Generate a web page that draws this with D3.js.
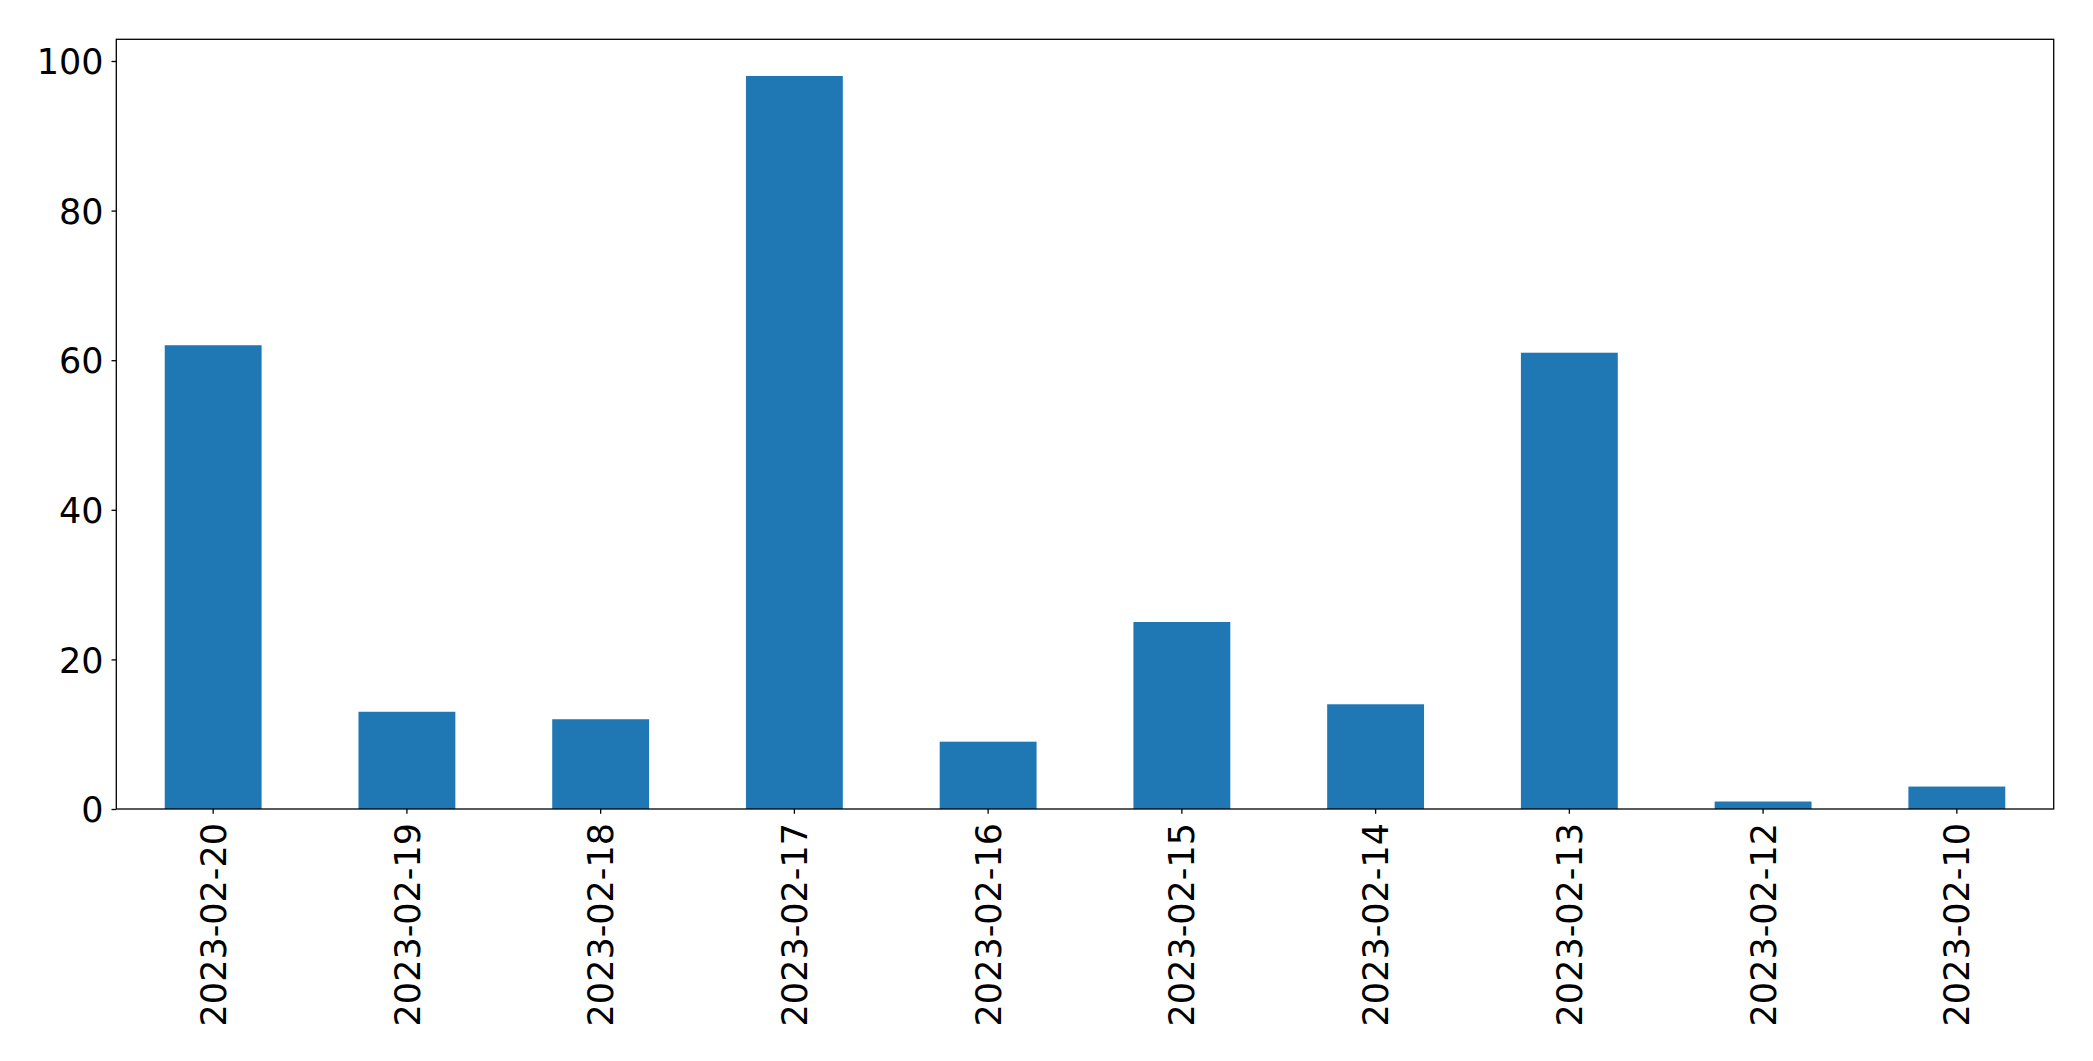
<!DOCTYPE html>
<html>
<head>
<meta charset="utf-8">
<script src="https://cdn.jsdelivr.net/npm/d3@7"></script>
<style>
  html, body { margin: 0; padding: 0; background: #fff; }
  svg { display: block; }
  text { font-family: "DejaVu Sans", sans-serif; fill: #000; }
</style>
</head>
<body>
<script>
const categories = ["2023-02-20","2023-02-19","2023-02-18","2023-02-17","2023-02-16","2023-02-15","2023-02-14","2023-02-13","2023-02-12","2023-02-10"];
const values = [62, 13, 12, 98, 9, 25, 14, 61, 1, 3];
const yTicks = [0, 20, 40, 60, 80, 100];

(function () {
const W = 2093, H = 1061;
const mLeft = 116.3, mRight = 2053.7, mTop = 39.3, mBottom = 809;
const fontSize = 35;

const svg = d3.select("body").append("svg").attr("width", W).attr("height", H);

const x = d3.scaleBand().domain(categories).range([mLeft, mRight]).paddingInner(0.5).paddingOuter(0.25);
const y = d3.scaleLinear().domain([0, d3.max(values) * 1.05]).range([mBottom, mTop]);

svg.append("g").selectAll("rect").data(categories).join("rect")
  .attr("x", (d) => x(d))
  .attr("width", x.bandwidth())
  .attr("y", (d, i) => y(values[i]))
  .attr("height", (d, i) => y(0) - y(values[i]))
  .attr("fill", "#1f77b4");

// frame
svg.append("rect").attr("x", mLeft).attr("y", mTop).attr("width", mRight - mLeft).attr("height", mBottom - mTop)
  .attr("fill", "none").attr("stroke", "#000").attr("stroke-width", 1.3);

// y axis
const yAxis = svg.append("g").attr("transform", `translate(${mLeft},0)`)
  .call(d3.axisLeft(y).tickValues(yTicks).tickSize(4.8).tickPadding(8).tickFormat(d3.format("d")));
yAxis.select(".domain").remove();
yAxis.selectAll("line").attr("stroke", "#000").attr("stroke-width", 1.3);
yAxis.selectAll("text").attr("font-size", fontSize).attr("font-family", "DejaVu Sans").attr("dy", "0.36em");

// x axis
const xAxis = svg.append("g").attr("transform", `translate(0,${mBottom})`)
  .call(d3.axisBottom(x).tickSize(4.8).tickSizeOuter(0));
xAxis.select(".domain").remove();
xAxis.selectAll("line").attr("stroke", "#000").attr("stroke-width", 1.3);
xAxis.selectAll("text")
  .attr("font-size", fontSize).attr("font-family", "DejaVu Sans")
  .attr("text-anchor", "end")
  .attr("x", 0).attr("y", 0).attr("dy", "0.36em")
  .attr("transform", "translate(0,14) rotate(-90)");
})();
</script>
</body>
</html>
